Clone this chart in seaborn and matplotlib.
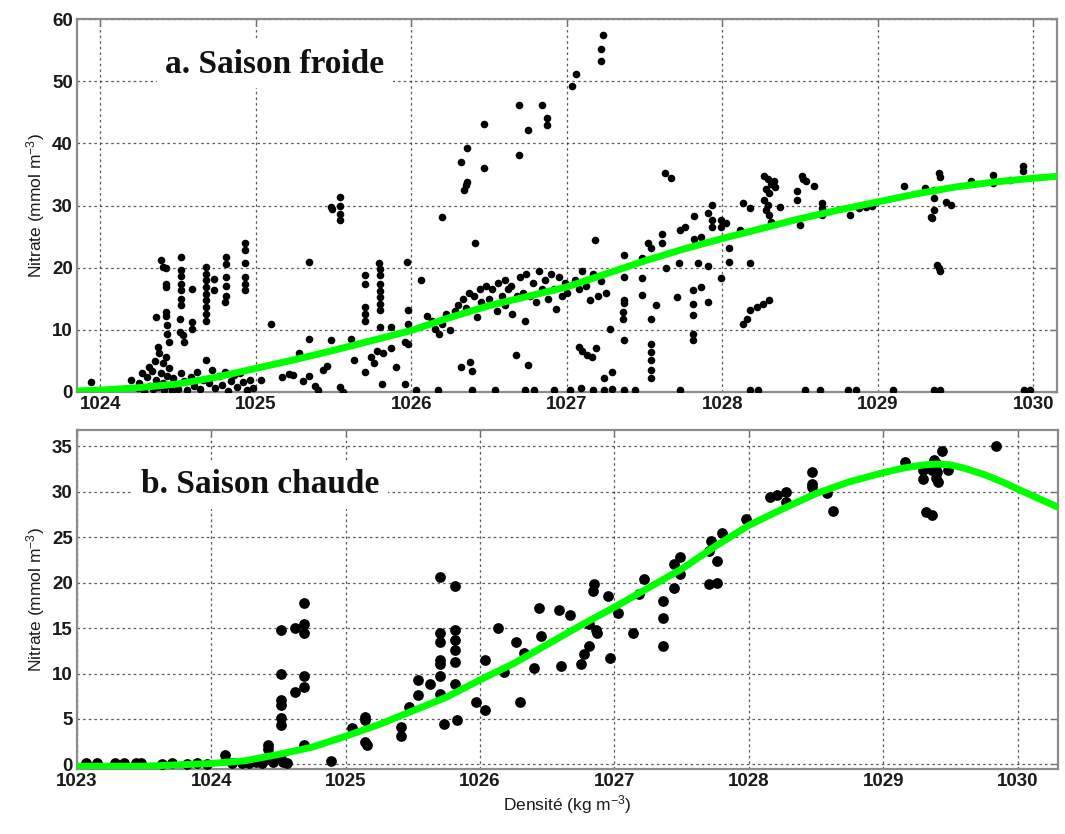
import pandas as pd
import seaborn as sns
import matplotlib.pyplot as plt

# ───────────────────────
# 1. Data
# ───────────────────────
# (density kg m-3, nitrate mmol m-3) – cold season
cold_points = [
    (1023.94, 1.6),
    # dense low cluster 1024.2-1025
    (1024.20, 2.0), (1024.24, 0.6), (1024.25, 1.5), (1024.27, 3.0), (1024.28, 0.2), (1024.30, 2.4),
    (1024.31, 4.0), (1024.32, 1.0), (1024.33, 3.4), (1024.34, 0.4), (1024.35, 5.0), (1024.36, 2.0),
    (1024.37, 7.2), (1024.37, 0.8), (1024.38, 6.2), (1024.39, 3.0), (1024.40, 4.6), (1024.40, 1.4),
    (1024.41, 0.3), (1024.42, 5.6), (1024.43, 2.6), (1024.44, 3.8), (1024.45, 1.0), (1024.46, 0.2),
    (1024.47, 2.2), (1024.49, 1.2), (1024.50, 0.5), (1024.52, 3.0), (1024.54, 1.8), (1024.56, 0.3),
    (1024.58, 2.4), (1024.60, 1.0), (1024.62, 3.2), (1024.64, 0.4), (1024.66, 2.0), (1024.68, 5.1),
    (1024.70, 1.4), (1024.72, 3.6), (1024.74, 0.6), (1024.76, 2.6), (1024.78, 1.2), (1024.80, 3.2),
    (1024.82, 0.2), (1024.84, 1.8), (1024.86, 2.8), (1024.88, 0.8), (1024.90, 3.0), (1024.92, 1.6),
    (1024.94, 0.3), (1024.96, 2.0), (1024.98, 0.6),
    # vertical profiles 1024.3-1024.95
    (1024.36, 12.0), (1024.39, 21.2), (1024.40, 20.1), (1024.42, 19.9), (1024.42, 17.4), (1024.42, 16.9),
    (1024.42, 12.9), (1024.42, 12.3), (1024.43, 10.7), (1024.43, 9.4), (1024.44, 8.0),
    (1024.52, 21.8), (1024.52, 19.6), (1024.52, 18.6), (1024.52, 17.4), (1024.52, 16.4), (1024.52, 15.0),
    (1024.52, 14.0), (1024.51, 11.8), (1024.51, 9.7), (1024.53, 9.1), (1024.54, 8.1),
    (1024.59, 16.5), (1024.59, 11.3), (1024.59, 10.2),
    (1024.68, 20.1), (1024.68, 19.0), (1024.68, 18.0), (1024.68, 16.9), (1024.68, 15.8), (1024.68, 14.8),
    (1024.68, 13.7), (1024.68, 12.6), (1024.68, 11.5), (1024.73, 18.2), (1024.73, 16.4),
    (1024.81, 21.7), (1024.81, 20.6), (1024.81, 18.5), (1024.81, 17.1), (1024.81, 15.5), (1024.80, 14.5),
    (1024.93, 23.9), (1024.93, 22.8), (1024.93, 20.7), (1024.93, 18.5), (1024.93, 17.4), (1024.93, 16.4),
    # 1025-1026
    (1025.03, 1.9), (1025.10, 11.0), (1025.17, 2.4), (1025.21, 2.9), (1025.24, 2.7), (1025.28, 6.2),
    (1025.30, 1.8), (1025.34, 20.9), (1025.34, 8.6), (1025.34, 2.5), (1025.38, 1.0), (1025.40, 0.3),
    (1025.43, 3.5), (1025.46, 4.2), (1025.48, 8.3), (1025.48, 29.8), (1025.49, 29.5), (1025.54, 31.4),
    (1025.54, 30.0), (1025.54, 28.7), (1025.54, 27.6), (1025.54, 0.8), (1025.56, 0.0), (1025.61, 8.6),
    (1025.63, 5.1), (1025.70, 18.8), (1025.70, 17.4), (1025.70, 13.7), (1025.70, 12.6), (1025.70, 11.5),
    (1025.70, 3.2), (1025.76, 4.6), (1025.79, 20.7), (1025.80, 19.8), (1025.80, 18.8), (1025.80, 17.4),
    (1025.80, 16.3), (1025.80, 15.3), (1025.80, 14.2), (1025.80, 13.2), (1025.80, 10.5), (1025.78, 6.6),
    (1025.74, 5.6), (1025.82, 6.2), (1025.81, 1.3), (1025.87, 10.5), (1025.87, 7.0), (1025.90, 4.0),
    (1025.96, 1.3), (1025.96, 8.1), (1025.97, 20.9), (1025.98, 13.2), (1025.98, 11.0), (1025.98, 7.8),
    (1026.03, 0.3), (1026.06, 18.1),
    # 1026-1027
    (1026.10, 12.3), (1026.13, 11.5), (1026.15, 10.2), (1026.18, 9.4), (1026.20, 11.0), (1026.22, 12.6),
    (1026.17, 0.3), (1026.20, 28.1), (1026.25, 10.0), (1026.28, 13.0), (1026.30, 14.0), (1026.32, 37.0),
    (1026.32, 4.0), (1026.33, 15.0), (1026.35, 13.5), (1026.36, 39.2), (1026.36, 33.8), (1026.35, 33.3),
    (1026.34, 32.5), (1026.37, 16.0), (1026.38, 4.8), (1026.39, 3.4), (1026.39, 0.3), (1026.41, 24.0),
    (1026.40, 15.5), (1026.42, 12.0), (1026.44, 16.5), (1026.45, 14.5), (1026.47, 43.1), (1026.47, 36.1),
    (1026.48, 17.0), (1026.50, 15.0), (1026.52, 16.5), (1026.54, 0.3), (1026.55, 13.0), (1026.56, 17.5),
    (1026.58, 15.5), (1026.60, 18.0), (1026.60, 14.0), (1026.62, 16.5), (1026.64, 17.0), (1026.65, 12.5),
    (1026.67, 5.9), (1026.68, 15.5), (1026.69, 46.2), (1026.69, 38.1), (1026.70, 18.5), (1026.72, 16.0),
    (1026.73, 11.5), (1026.73, 0.3), (1026.74, 19.0), (1026.75, 42.1), (1026.75, 4.3), (1026.76, 15.5),
    (1026.78, 17.5), (1026.80, 14.5), (1026.82, 19.5), (1026.84, 46.2), (1026.84, 16.5), (1026.86, 18.0),
    (1026.87, 44.1), (1026.87, 43.0), (1026.88, 15.0), (1026.90, 19.0), (1026.92, 16.5), (1026.93, 13.4),
    (1026.95, 18.5), (1026.97, 15.5), (1026.99, 17.5), (1027.00, 16.0),
    (1026.79, 0.3), (1026.92, 0.3), (1027.02, 0.3), (1027.09, 0.6), (1027.17, 0.3), (1027.24, 0.3),
    (1027.29, 0.5), (1027.37, 0.3), (1027.44, 0.3),
    # 1027-1028
    (1027.03, 49.3), (1027.06, 51.2), (1027.22, 53.2), (1027.22, 55.2), (1027.23, 57.4), (1027.18, 24.4),
    (1027.05, 18.0), (1027.08, 16.5), (1027.10, 19.5), (1027.12, 17.0), (1027.15, 14.8), (1027.17, 19.0),
    (1027.20, 15.5), (1027.22, 17.8), (1027.25, 16.0), (1027.08, 7.3), (1027.10, 6.6), (1027.13, 6.0),
    (1027.16, 5.6), (1027.19, 7.0), (1027.24, 2.2), (1027.29, 3.2), (1027.28, 10.2), (1027.37, 22.0),
    (1027.37, 18.5), (1027.37, 14.8), (1027.37, 14.4), (1027.36, 12.8), (1027.36, 11.8), (1027.37, 8.3),
    (1027.48, 21.5), (1027.48, 18.3), (1027.48, 15.6), (1027.52, 23.9), (1027.54, 23.2), (1027.54, 11.8),
    (1027.54, 7.8), (1027.54, 6.5), (1027.54, 5.1), (1027.54, 3.5), (1027.54, 2.2), (1027.57, 14.0),
    (1027.61, 25.5), (1027.61, 23.9), (1027.64, 19.9), (1027.63, 35.2), (1027.67, 34.4), (1027.71, 15.3),
    (1027.72, 20.7), (1027.73, 26.0), (1027.73, 0.3), (1027.76, 26.6), (1027.81, 16.4), (1027.81, 14.2),
    (1027.81, 12.4), (1027.81, 9.4), (1027.81, 8.3), (1027.82, 28.3), (1027.82, 24.7), (1027.84, 20.7),
    (1027.86, 16.9), (1027.86, 25.0), (1027.91, 28.8), (1027.91, 20.2), (1027.91, 14.5), (1027.93, 30.1),
    (1027.93, 27.7), (1027.93, 26.6), (1027.99, 27.7), (1027.99, 26.6), (1027.99, 18.3), (1028.02, 27.2),
    (1028.04, 23.1), (1028.04, 21.0),
    # 1028-1030
    (1028.11, 26.1), (1028.13, 30.4), (1028.13, 11.0), (1028.16, 11.8), (1028.18, 29.6), (1028.18, 20.7),
    (1028.18, 13.2), (1028.22, 13.7), (1028.26, 14.2), (1028.30, 14.8), (1028.18, 0.3), (1028.23, 0.3),
    (1028.27, 34.7), (1028.29, 34.2), (1028.31, 33.4), (1028.28, 32.6), (1028.30, 32.0), (1028.27, 30.9),
    (1028.29, 30.1), (1028.28, 29.3), (1028.30, 28.5), (1028.31, 27.4), (1028.33, 34.0), (1028.34, 33.0),
    (1028.37, 29.8), (1028.48, 32.3), (1028.48, 30.9), (1028.51, 34.7), (1028.52, 34.2), (1028.54, 33.9),
    (1028.59, 33.1), (1028.50, 26.9), (1028.53, 0.3), (1028.64, 30.4), (1028.64, 29.6), (1028.64, 28.5),
    (1028.63, 0.3), (1028.82, 28.5), (1028.81, 0.3), (1028.86, 0.3), (1028.88, 29.6), (1028.92, 29.8),
    (1028.96, 30.0), (1029.10, 0.3), (1029.17, 33.1), (1029.30, 32.8), (1029.36, 32.5), (1029.36, 31.2),
    (1029.36, 29.3), (1029.35, 28.0), (1029.34, 28.2), (1029.39, 35.2), (1029.40, 34.6), (1029.44, 30.6),
    (1029.47, 30.1), (1029.38, 20.4), (1029.39, 19.9), (1029.40, 19.4), (1029.36, 0.3), (1029.40, 0.3),
    (1029.60, 33.9), (1029.74, 34.9), (1029.74, 33.6), (1029.85, 34.1), (1029.93, 36.3), (1029.93, 35.5),
    (1029.94, 0.3), (1029.98, 0.3),
]

# warm season
warm_points = [
    (1023.07, 0.1), (1023.15, 0.1), (1023.28, 0.1), (1023.35, 0.1), (1023.44, 0.1), (1023.48, 0.1),
    (1023.63, 0.0), (1023.71, 0.1), (1023.82, 0.0), (1023.89, 0.1), (1023.97, 0.0), (1024.10, 1.0),
    (1024.15, 0.1), (1024.23, 0.2), (1024.28, 0.1), (1024.33, 0.3), (1024.38, 0.2), (1024.46, 0.3),
    (1024.42, 2.1), (1024.42, 1.7), (1024.43, 0.6),
    (1024.52, 14.8), (1024.52, 10.0), (1024.52, 7.1), (1024.52, 6.5), (1024.52, 5.1), (1024.52, 4.3),
    (1024.52, 0.6), (1024.53, 0.3), (1024.56, 0.1),
    (1024.62, 15.0), (1024.62, 8.0), (1024.69, 17.8), (1024.69, 15.4), (1024.69, 14.5), (1024.69, 9.7),
    (1024.69, 8.5), (1024.69, 2.1), (1024.89, 0.4),
    (1025.05, 4.0), (1025.14, 5.2), (1025.14, 4.9), (1025.14, 2.5), (1025.16, 2.1), (1025.41, 4.1),
    (1025.41, 3.1), (1025.47, 6.3), (1025.54, 9.3), (1025.54, 7.6), (1025.63, 8.9),
    (1025.70, 20.6), (1025.70, 14.5), (1025.70, 13.5), (1025.70, 11.5), (1025.70, 11.0), (1025.70, 9.7),
    (1025.70, 7.8), (1025.73, 4.5),
    (1025.81, 19.6), (1025.81, 14.8), (1025.81, 13.7), (1025.81, 12.6), (1025.81, 11.3), (1025.81, 8.9),
    (1025.83, 4.9),
    (1025.97, 6.9), (1026.04, 11.5), (1026.04, 6.0), (1026.13, 15.0), (1026.18, 10.2), (1026.27, 13.5),
    (1026.30, 6.9), (1026.33, 12.3), (1026.40, 10.6), (1026.44, 17.2), (1026.45, 14.1),
    (1026.59, 17.0), (1026.60, 10.8), (1026.67, 16.4), (1026.75, 11.0), (1026.77, 12.1), (1026.81, 15.4),
    (1026.81, 13.0), (1026.85, 19.8), (1026.84, 19.1), (1026.86, 14.8), (1026.87, 14.5), (1026.95, 18.5),
    (1026.97, 11.7), (1027.03, 16.7), (1027.14, 14.5), (1027.18, 18.7), (1027.22, 20.4), (1027.36, 18.0),
    (1027.36, 16.1), (1027.36, 13.0), (1027.44, 22.0), (1027.44, 19.4), (1027.49, 22.8), (1027.49, 20.9),
    (1027.70, 23.5), (1027.70, 19.8), (1027.72, 24.6), (1027.76, 22.4), (1027.76, 20.0), (1027.80, 25.5),
    (1027.98, 27.0), (1028.16, 29.4), (1028.21, 29.6), (1028.28, 30.0), (1028.28, 28.9), (1028.47, 32.2),
    (1028.47, 30.9), (1028.47, 30.5), (1028.58, 29.9), (1028.63, 27.9), (1029.16, 33.3), (1029.30, 32.4),
    (1029.30, 31.4), (1029.32, 27.8), (1029.36, 27.4), (1029.36, 32.4), (1029.38, 33.5), (1029.40, 33.1),
    (1029.40, 32.2), (1029.39, 31.5), (1029.41, 31.1), (1029.44, 34.5), (1029.48, 32.4), (1029.84, 35.0),
]

# fitted curves
cold_fit_density = [1023.85, 1024.0, 1024.25, 1024.5, 1024.75, 1025.0, 1025.25, 1025.5, 1025.75,
                    1026.0, 1026.25, 1026.5, 1026.75, 1027.0, 1027.25, 1027.5, 1027.75, 1028.0,
                    1028.25, 1028.5, 1028.75, 1029.0, 1029.25, 1029.5, 1029.75, 1030.0, 1030.15]
cold_fit_nitrate = [0.15, 0.3, 0.7, 1.3, 2.4, 3.8, 5.2, 6.7, 8.3,
                    9.9, 12.0, 13.9, 15.4, 16.9, 19.0, 21.1, 23.0, 24.7,
                    26.3, 27.9, 29.3, 30.6, 31.9, 33.0, 33.8, 34.4, 34.7]
warm_fit_density = [1023.0, 1023.5, 1024.0, 1024.25, 1024.5, 1024.75, 1025.0, 1025.25, 1025.5,
                    1025.75, 1026.0, 1026.25, 1026.5, 1026.75, 1027.0, 1027.25, 1027.5, 1027.75,
                    1028.0, 1028.25, 1028.5, 1028.75, 1029.0, 1029.15, 1029.3, 1029.4, 1029.5,
                    1029.6, 1029.75, 1029.9, 1030.0, 1030.15, 1030.3]
warm_fit_nitrate = [-0.2, -0.2, 0.1, 0.4, 1.1, 1.9, 3.1, 4.4, 5.9,
                    7.4, 9.3, 11.1, 13.2, 15.3, 17.3, 19.4, 21.5, 24.0,
                    26.3, 28.1, 29.8, 31.1, 32.1, 32.6, 32.95, 33.05, 32.95,
                    32.6, 31.9, 31.0, 30.3, 29.3, 28.3]

cold_xticks = [1024, 1025, 1026, 1027, 1028, 1029, 1030]
warm_xticks = [1023, 1024, 1025, 1026, 1027, 1028, 1029, 1030]
cold_yticks = [0, 10, 20, 30, 40, 50, 60]
warm_yticks = [0, 5, 10, 15, 20, 25, 30, 35]

cold_df = pd.DataFrame(cold_points, columns=["density", "nitrate"])
warm_df = pd.DataFrame(warm_points, columns=["density", "nitrate"])
cold_fit = pd.DataFrame({"density": cold_fit_density, "nitrate": cold_fit_nitrate})
warm_fit = pd.DataFrame({"density": warm_fit_density, "nitrate": warm_fit_nitrate})

# ───────────────────────
# 2. Style
# ───────────────────────
sns.set_theme(style="white")
plt.rcParams.update({
    "font.family": ["Liberation Sans", "DejaVu Sans"],
    "mathtext.default": "regular",
    "axes.edgecolor": "#8c8c8c",
    "axes.linewidth": 1.6,
})

fig = plt.figure(figsize=(10.65, 8.34), dpi=100)
ax_a = fig.add_axes([0.0723, 0.530, 0.920, 0.447])
ax_b = fig.add_axes([0.0723, 0.078, 0.921, 0.4065])

GREEN = "#00ff00"


def style_axes(ax, xlim, ylim, xticks, yticks):
    ax.set_xlim(*xlim)
    ax.set_ylim(*ylim)
    ax.set_xticks(xticks)
    ax.set_yticks(yticks)
    ax.set_xticklabels([str(t) for t in xticks])
    ax.set_yticklabels([str(t) for t in yticks])
    ax.grid(True, linestyle=(0, (2, 2.5)), linewidth=0.9, color="#303030", alpha=0.8)
    ax.set_axisbelow(True)
    ax.tick_params(direction="in", length=5, width=1, color="#707070",
                   top=True, right=True, labelsize=13.5, pad=3)
    for lab in ax.get_xticklabels() + ax.get_yticklabels():
        lab.set_fontweight("bold")
        lab.set_color("#1a1a1a")
    ax.set_ylabel("Nitrate (mmol m$^{-3}$)", fontsize=12.5, color="#1a1a1a", labelpad=4)
    ax.set_xlabel("")


# ───────────────────────
# 3. Panel a: cold season
# ───────────────────────
sns.scatterplot(data=cold_df, x="density", y="nitrate", ax=ax_a, color="black",
                s=30, linewidth=0, zorder=3, legend=False)
sns.lineplot(data=cold_fit, x="density", y="nitrate", ax=ax_a, color=GREEN,
             linewidth=5, estimator=None, sort=True, zorder=4, legend=False)
style_axes(ax_a, (1023.85, 1030.15), (0, 60), cold_xticks, cold_yticks)
ax_a.text(0.202, 0.879, "a. Saison froide", transform=ax_a.transAxes,
          ha="center", va="center", fontsize=24, fontweight="bold",
          family=["Liberation Serif", "DejaVu Serif"], color="#111111", zorder=5,
          bbox=dict(facecolor="white", edgecolor="none", pad=6))

# ───────────────────────
# 4. Panel b: warm season
# ───────────────────────
sns.scatterplot(data=warm_df, x="density", y="nitrate", ax=ax_b, color="black",
                s=60, linewidth=0, zorder=3, legend=False)
sns.lineplot(data=warm_fit, x="density", y="nitrate", ax=ax_b, color=GREEN,
             linewidth=5, estimator=None, sort=True, zorder=4, legend=False)
style_axes(ax_b, (1023.0, 1030.3), (-0.5, 36.8), warm_xticks, warm_yticks)
ax_b.set_xlabel("Densité (kg m$^{-3}$)", fontsize=12.5, color="#1a1a1a", labelpad=2)
ax_b.text(0.187, 0.838, "b. Saison chaude", transform=ax_b.transAxes,
          ha="center", va="center", fontsize=24, fontweight="bold",
          family=["Liberation Serif", "DejaVu Serif"], color="#111111", zorder=5,
          bbox=dict(facecolor="white", edgecolor="none", pad=6))

fig.savefig("out.png", dpi=100)
